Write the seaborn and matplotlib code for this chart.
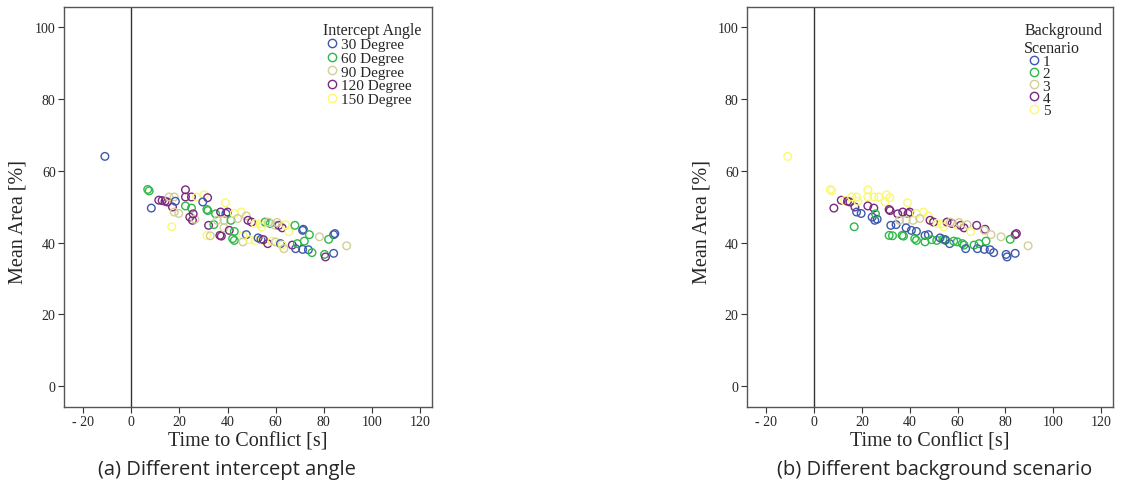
import matplotlib
matplotlib.use("Agg")
import matplotlib.pyplot as plt
from matplotlib.lines import Line2D
import pandas as pd
import seaborn as sns

sns.set_theme(style="white")
plt.rcParams["font.family"] = ["Liberation Serif", "DejaVu Serif"]

# 每個點：Time to Conflict、Mean Area、intercept angle、background scenario
TTC = [
    -11.0, 6.8, 7.4, 8.3, 11.4, 12.8, 14.0, 15.0, 15.7, 17.8,
    17.1, 17.8, 19.7, 16.8, 18.3, 22.5, 22.5, 25.0, 27.1, 22.5,
    25.0, 24.3, 25.4, 26.4, 25.7, 30.3, 31.7, 29.7, 31.4, 31.8,
    32.1, 34.3, 31.4, 32.8, 36.8, 37.4, 35.0, 37.1, 39.3, 40.0,
    39.1, 35.7, 38.5, 41.4, 42.8, 45.7, 47.8, 44.2, 38.5, 40.7,
    42.8, 46.4, 47.8, 42.1, 42.8, 46.4, 48.5, 50.0, 51.4, 53.5,
    55.6, 57.7, 59.9, 61.3, 62.7, 54.2, 57.0, 60.6, 64.0, 65.5,
    68.0, 71.5, 71.2, 74.0, 78.2, 89.5, 84.6, 84.1, 49.2, 51.3,
    53.9, 54.9, 52.7, 54.9, 56.7, 58.4, 59.9, 62.0, 62.7, 63.4,
    66.9, 68.3, 69.0, 71.2, 71.9, 73.6, 75.1, 80.3, 80.7, 84.1,
    82.0,
]
MEAN_AREA = [
    64.0, 54.8, 54.4, 49.6, 51.8, 51.7, 51.5, 51.3, 52.7, 52.7,
    49.9, 48.5, 48.1, 44.4, 51.5, 54.7, 52.7, 52.7, 52.7, 50.2,
    49.6, 47.1, 46.2, 46.5, 48.0, 53.3, 52.5, 51.3, 49.2, 48.9,
    44.8, 45.0, 42.0, 41.9, 42.0, 41.8, 48.0, 48.5, 48.1, 48.5,
    51.1, 46.2, 46.2, 46.2, 48.1, 48.5, 47.4, 46.7, 44.1, 43.4,
    43.1, 42.0, 42.2, 41.1, 40.6, 40.2, 46.2, 45.7, 45.3, 45.3,
    45.7, 45.3, 44.8, 44.8, 44.1, 44.4, 45.7, 45.6, 45.0, 43.0,
    44.8, 43.7, 43.4, 42.2, 41.6, 39.1, 42.5, 42.2, 40.8, 40.6,
    40.9, 40.6, 41.3, 40.8, 39.7, 40.4, 40.2, 39.7, 39.3, 38.3,
    39.3, 38.3, 39.7, 38.1, 40.4, 38.0, 37.2, 36.7, 36.0, 37.0,
    40.9,
]
ANGLE = [
    30, 60, 60, 30, 120, 120, 120, 120, 90, 90,
    120, 90, 90, 150, 30, 120, 120, 120, 150, 60,
    60, 120, 120, 90, 120, 150, 120, 30, 60, 60,
    120, 60, 150, 90, 120, 120, 60, 120, 30, 120,
    150, 90, 90, 60, 150, 150, 90, 90, 90, 120,
    60, 150, 30, 60, 60, 90, 120, 120, 150, 150,
    60, 60, 90, 120, 120, 150, 90, 90, 150, 150,
    60, 30, 30, 60, 90, 90, 30, 30, 150, 150,
    30, 150, 30, 120, 120, 150, 90, 30, 150, 90,
    120, 30, 60, 30, 60, 30, 60, 60, 120, 30,
    60,
]
SCENARIO = [
    5, 5, 5, 4, 4, 5, 4, 4, 5, 5,
    4, 1, 1, 2, 5, 5, 5, 5, 5, 4,
    4, 1, 1, 1, 2, 5, 5, 5, 4, 4,
    1, 1, 2, 2, 2, 2, 4, 4, 4, 4,
    5, 3, 3, 3, 5, 5, 5, 3, 1, 1,
    1, 1, 1, 2, 2, 2, 4, 4, 5, 5,
    4, 4, 5, 4, 4, 5, 3, 3, 3, 5,
    4, 4, 3, 3, 3, 3, 4, 4, 2, 2,
    2, 2, 1, 1, 1, 2, 2, 2, 2, 1,
    2, 1, 2, 1, 2, 1, 1, 1, 1, 1,
    2,
]

ANGLE_LEVELS = [30, 60, 90, 120, 150]
ANGLE_LABELS = ["30 Degree", "60 Degree", "90 Degree", "120 Degree", "150 Degree"]
SCENARIO_LEVELS = [1, 2, 3, 4, 5]
SCENARIO_LABELS = ["1", "2", "3", "4", "5"]
SPSS_COLORS = ["#3E58AC", "#2EB848", "#D3CE97", "#7C287D", "#FBF873"]

X_TICKS = [-20, 0, 20, 40, 60, 80, 100, 120]
X_TICK_LABELS = ["- 20", "0", "20", "40", "60", "80", "100", "120"]
Y_TICKS = [0, 20, 40, 60, 80, 100]

df = pd.DataFrame({
    "ttc": TTC, "area": MEAN_AREA, "angle": ANGLE, "scenario": SCENARIO,
})


def draw_panel(ax, hue, levels, labels, legend_title, spacing):
    sns.scatterplot(
        data=df, x="ttc", y="area", hue=hue, hue_order=levels,
        palette=dict(zip(levels, SPSS_COLORS)), s=30, legend=False, ax=ax,
    )
    # 空心圓圈：把填色移到邊框
    coll = ax.collections[0]
    coll.set_edgecolors(coll.get_facecolors())
    coll.set_facecolors("none")
    coll.set_linewidths(1.0)

    ax.axvline(0, color="#333333", linewidth=1.0, zorder=0)
    ax.set_xlim(-28, 125)
    ax.set_ylim(-5.8, 105.6)
    ax.set_xticks(X_TICKS)
    ax.set_xticklabels(X_TICK_LABELS)
    ax.set_yticks(Y_TICKS)
    ax.tick_params(axis="both", direction="out", length=4, width=0.8,
                   color="#333333", labelsize=10, pad=2, bottom=True, left=True)
    for sp in ax.spines.values():
        sp.set_color("#555555")
        sp.set_linewidth(1.0)
    ax.set_xlabel("Time to Conflict [s]", fontsize=14.5, labelpad=2)
    ax.set_ylabel("Mean Area [%]", fontsize=14.5)
    ax.yaxis.set_label_coords(-0.098, 0.465)

    handles = [
        Line2D([], [], linestyle="none", marker="o", markersize=6,
               markerfacecolor="none", markeredgecolor=c, markeredgewidth=1.0)
        for c in SPSS_COLORS
    ]
    leg = ax.legend(handles, labels, title=legend_title, loc="upper right",
                    bbox_to_anchor=(1.0, 0.99), frameon=False, fontsize=11,
                    title_fontsize=11.5, handletextpad=0.0, labelspacing=spacing,
                    handlelength=1.2, borderpad=0.2)
    leg._legend_box.align = "left"


fig = plt.figure(figsize=(11.21, 4.89), dpi=100)
ax1 = fig.add_axes([0.0571, 0.1656, 0.3283, 0.818])
ax2 = fig.add_axes([0.6664, 0.1656, 0.3265, 0.818])

draw_panel(ax1, "angle", ANGLE_LEVELS, ANGLE_LABELS, "Intercept Angle", 0.0)
draw_panel(ax2, "scenario", SCENARIO_LEVELS, SCENARIO_LABELS,
           "Background\nScenario", -0.1)

caption_font = ["Open Sans", "DejaVu Sans"]
fig.text(0.2025, 0.039, "(a) Different intercept angle", ha="center",
         va="center", fontsize=14.5, family=caption_font)
fig.text(0.834, 0.039, "(b) Different background scenario", ha="center",
         va="center", fontsize=14.5, family=caption_font)

fig.savefig("out.png", dpi=100)
